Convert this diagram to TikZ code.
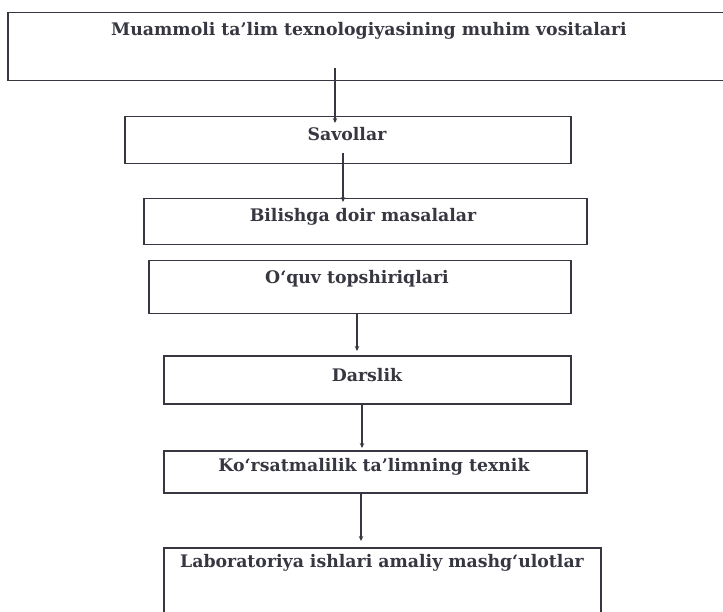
\documentclass[tikz,border=0pt]{standalone}
\usepackage{fontspec}
\setmainfont{DejaVu Serif}
\usetikzlibrary{arrows.meta}
\definecolor{ink}{RGB}{55,55,66}
\begin{document}
\begin{tikzpicture}[x=1pt,y=-1pt,
  box/.style={draw=ink, line width=1.5pt, rectangle, inner sep=0pt, anchor=north west},
  lbl/.style={font=\fontsize{17.3}{20}\selectfont\bfseries, text=ink, inner sep=0pt},
  arr/.style={draw=ink, line width=1.2pt, -{Stealth[length=5pt,width=4.5pt]}}]
\clip (0,0) rectangle (723,612);
\fill[white] (0,0) rectangle (723,612);
% boxes
\node[box, minimum width=728pt, minimum height=68pt] (b1) at (7,12) {};
\node[box, minimum width=446pt, minimum height=47pt] (b2) at (124,116) {};
\node[box, minimum width=443pt, minimum height=46pt] (b3) at (143,198) {};
\node[box, minimum width=422pt, minimum height=53pt] (b4) at (148,260) {};
\node[box, minimum width=407pt, minimum height=48pt] (b5) at (163,355) {};
\node[box, minimum width=423pt, minimum height=42pt] (b6) at (163,450) {};
\node[box, minimum width=437pt, minimum height=90pt] (b7) at (163,547) {};
% labels
\node[lbl] (t1) at (369,31) {Muammoli ta'lim texnologiyasining muhim vositalari};
\node[lbl] (t2) at (347,134) {Savollar};
\node[lbl] (t3) at (363,217) {Bilishga doir masalalar};
\node[lbl] (t4) at (357,279) {O‘quv topshiriqlari};
\node[lbl] (t5) at (367,375) {Darslik};
\node[lbl] (t6) at (374,467) {Ko‘rsatmalilik ta'limning texnik};
\node[lbl] (t7) at (382,563) {Laboratoriya ishlari amaliy mashg‘ulotlar};
% connector ends
\coordinate (a1s) at (335,68);  \coordinate (a1e) at (335,123);
\coordinate (a2s) at (343,153); \coordinate (a2e) at (343,202);
\coordinate (a3s) at (357,313); \coordinate (a3e) at (357,351);
\coordinate (a4s) at (362,403); \coordinate (a4e) at (362,448);
\coordinate (a5s) at (361,492); \coordinate (a5e) at (361,541);
\draw[arr] (a1s) -- (a1e);
\draw[arr] (a2s) -- (a2e);
\draw[arr] (a3s) -- (a3e);
\draw[arr] (a4s) -- (a4e);
\draw[arr] (a5s) -- (a5e);
\end{tikzpicture}
\end{document}
